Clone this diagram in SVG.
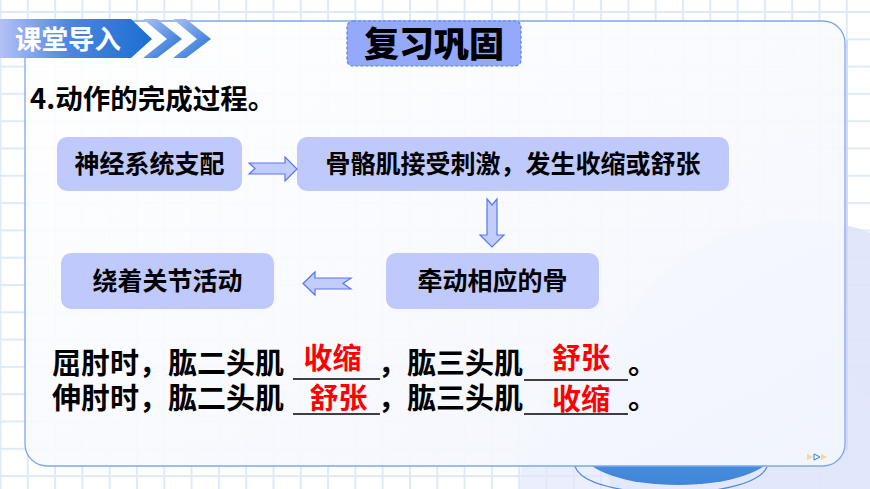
<svg xmlns="http://www.w3.org/2000/svg" width="870" height="489" viewBox="0 0 870 489">
<defs>
<pattern id="grid" patternUnits="userSpaceOnUse" x="-0.5" y="11" width="27.3" height="27.3">
<rect x="0" y="0" width="27.3" height="27.3" fill="#ffffff"/>
<rect x="0" y="0" width="2" height="27.3" fill="#dfeaf8"/>
<rect x="0" y="0" width="27.3" height="2" fill="#dfeaf8"/>
</pattern>
<linearGradient id="panelFill" x1="0" y1="0" x2="1" y2="1">
<stop offset="0" stop-color="#ffffff" stop-opacity="0.9"/>
<stop offset="0.6" stop-color="#f7f9fe" stop-opacity="0.93"/>
<stop offset="1" stop-color="#f1f5fd" stop-opacity="0.95"/>
</linearGradient>
<linearGradient id="bannerFill" x1="0" y1="0" x2="1" y2="0">
<stop offset="0" stop-color="#b4c1f7"/>
<stop offset="0.45" stop-color="#4f86e0"/>
<stop offset="1" stop-color="#1a6ed2"/>
</linearGradient>
<linearGradient id="chevFill" x1="0" y1="0" x2="1" y2="1">
<stop offset="0" stop-color="#aebff7"/>
<stop offset="1" stop-color="#1a6ed2"/>
</linearGradient>
<linearGradient id="blobFill" x1="0" y1="0" x2="0" y2="1">
<stop offset="0" stop-color="#5c9ae6"/>
<stop offset="1" stop-color="#3f86d8"/>
</linearGradient>
<clipPath id="belowPanel">
<rect x="0" y="466" width="870" height="23"/>
</clipPath>
<style>
.cjk{font-family:'Noto Sans CJK SC','Noto Sans',sans-serif;font-weight:bold;}
.node rect{fill:#c0c9fb;}
.node text{font-size:25px;fill:#000;text-anchor:middle;}
.arrow{fill:#c3cdfb;stroke:#5877f2;stroke-width:1.2;stroke-linejoin:miter;}
.blk{font-size:29px;fill:#000;}
.red{font-size:29px;fill:#ff0000;text-anchor:middle;}
.ul{stroke:#000;stroke-width:1.4;}
</style>
</defs>

<rect x="0" y="0" width="870" height="489" fill="url(#grid)"/>

<!-- background decorations -->
<circle cx="800" cy="420" r="200" fill="#dfe3fb" opacity="0.9"/>
<circle cx="705" cy="490" r="185" fill="#e3e7fb" opacity="0.7"/>
<g clip-path="url(#belowPanel)">
<ellipse cx="678" cy="452" rx="95" ry="33" fill="url(#blobFill)"/>
<path d="M575,466 C585,502 752,502 767,467" fill="none" stroke="#4a8ee0" stroke-width="1.2"/>
</g>

<!-- panel -->
<rect x="25" y="21" width="820" height="445" rx="22" fill="url(#panelFill)" stroke="#7ea8ee" stroke-width="1.3"/>
<line x1="847" y1="40" x2="847" y2="450" stroke="#c9d6f2" stroke-width="1.5"/>

<!-- banner -->
<g id="banner">
<polygon points="0,19 131,19 152,39 131,58 0,58" fill="url(#bannerFill)"/>
<polygon points="143,19 157,19 182,39 157,58 143,58 167,39" fill="url(#chevFill)"/>
<polygon points="173,19 186,19 211,39 186,58 173,58 197,39" fill="url(#chevFill)"/>
<text x="15" y="48.5" class="cjk" font-size="26.5" fill="#ffffff">课堂导入</text>
</g>

<!-- title -->
<g id="title">
<rect x="347" y="21" width="174" height="45" rx="6" fill="#94a9f9" stroke="#5a7ef0" stroke-width="1.2" stroke-dasharray="3 2"/>
<text x="434" y="57" font-family="'Noto Sans CJK SC','Noto Sans',sans-serif" font-weight="900" font-size="35" fill="#000" text-anchor="middle">复习巩固</text>
</g>

<text x="30" y="109" class="cjk" font-size="27.5" fill="#000">4.动作的完成过程。</text>

<!-- nodes -->
<g id="node-nervous" class="node cjk">
<rect x="57" y="137" width="185" height="54" rx="10"/>
<text x="149.5" y="173">神经系统支配</text>
</g>
<g id="node-muscle" class="node cjk">
<rect x="297" y="137" width="432" height="54" rx="10"/>
<text x="513" y="173">骨骼肌接受刺激，发生收缩或舒张</text>
</g>
<g id="node-bone" class="node cjk">
<rect x="386" y="253" width="213" height="56" rx="10"/>
<text x="492.5" y="290">牵动相应的骨</text>
</g>
<g id="node-joint" class="node cjk">
<rect x="61" y="253" width="213" height="56" rx="10"/>
<text x="167.5" y="290">绕着关节活动</text>
</g>

<!-- connectors -->
<g id="connectors">
<polygon class="arrow" points="249,163 285,163 285,157 297,169 285,181 285,174 249,174 255,168.5"/>
<polygon class="arrow" points="487,199 492,205 497,199 497,235 504,235 492,247 480,235 487,235"/>
<polygon class="arrow" points="303,283.5 315,272 315,278 351,278 343,283.5 351,289 315,289 315,295"/>
</g>

<!-- fill-in lines -->
<g id="question" class="cjk">
<text x="52" y="374" class="blk">屈肘时，肱二头肌</text>
<line class="ul" x1="293" y1="379" x2="380" y2="379"/>
<text x="332.5" y="369" class="red">收缩</text>
<text x="378" y="374" class="blk">，肱三头肌</text>
<line class="ul" x1="524" y1="380" x2="628" y2="380"/>
<text x="581" y="369" class="red">舒张</text>
<text x="628" y="374" class="blk">。</text>

<text x="52" y="409" class="blk">伸肘时，肱二头肌</text>
<line class="ul" x1="293" y1="414" x2="380" y2="414"/>
<text x="338.5" y="409" class="red">舒张</text>
<text x="378" y="409" class="blk">，肱三头肌</text>
<line class="ul" x1="524" y1="414" x2="628" y2="414"/>
<text x="581" y="410" class="red">收缩</text>
<text x="628" y="409" class="blk">。</text>
</g>

<!-- small play icon -->
<g id="play-icon">
<polygon points="807,454 813,457 807,460" fill="#f2d98c"/>
<polygon points="814,454 820,457 814,460" fill="#ffffff" stroke="#2a7ae0" stroke-width="1"/>
<polygon points="821,454 827,457 821,460" fill="#f2d98c"/>
</g>
</svg>
